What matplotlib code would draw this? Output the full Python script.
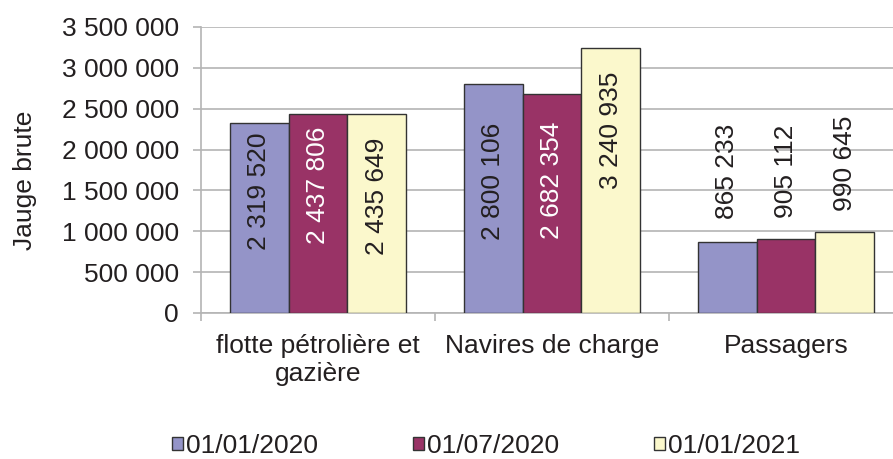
import matplotlib.pyplot as plt
import numpy as np
from matplotlib.patches import Patch
from matplotlib.ticker import FuncFormatter, FixedLocator

# data
categories = ["flotte pétrolière et\ngazière", "Navires de charge", "Passagers"]
series_names = ["01/01/2020", "01/07/2020", "01/01/2021"]
val_2020_01 = [2319520, 2800106, 865233]
val_2020_07 = [2437806, 2682354, 905112]
val_2021_01 = [2435649, 3240935, 990645]

# layout: centre of each value label (data units), as placed in the original
label_y_2020_01 = [1.487e6, 1.609e6, 1.732e6]
label_y_2020_07 = [1.566e6, 1.621e6, 1.732e6]
label_y_2021_01 = [1.426e6, 2.233e6, 1.829e6]

colors = ["#9494c8", "#993366", "#fbf8cc"]
label_colors = ["#231f20", "white", "#231f20"]
text_color = "#231f20"
grid_color = "#b4b4b4"

plt.rcParams['font.family'] = ['Liberation Sans', 'DejaVu Sans']
plt.rcParams['font.size'] = 19

fig = plt.figure(figsize=(8.93, 4.59), dpi=100)
ax = fig.add_axes([201 / 893, 1 - 313 / 459, 702 / 893, 286 / 459])

x = np.arange(len(categories))
width = 0.25
offsets = [-width, 0, width]
series = [val_2020_01, val_2020_07, val_2021_01]
label_pos = [label_y_2020_01, label_y_2020_07, label_y_2021_01]

for i, vals in enumerate(series):
    ax.bar(x + offsets[i], vals, width, color=colors[i], edgecolor="#333333",
           linewidth=1.0, zorder=3)
    for j, v in enumerate(vals):
        # last group: labels sit above bars, dark text
        col = label_colors[i] if j < 2 else text_color
        ax.text(x[j] + offsets[i], label_pos[i][j], f"{v:,}".replace(",", " "),
                rotation=90, ha="center", va="center", color=col, fontsize=19,
                zorder=4)

ax.set_xlim(-0.5, 2.5)
ax.set_ylim(0, 3500000)
ax.set_yticks(np.arange(0, 3500001, 500000))
ax.yaxis.set_major_formatter(FuncFormatter(lambda v, p: f"{int(v):,}".replace(",", " ")))
ax.grid(axis="y", color=grid_color, linewidth=1.2, zorder=0)

ax.set_xticks(x)
ax.set_xticklabels(categories, color=text_color)
ax.xaxis.set_minor_locator(FixedLocator([-0.5, 0.5, 1.5, 2.5]))
ax.tick_params(axis="x", which="major", length=0, pad=15, labelsize=19)
ax.tick_params(axis="x", which="minor", length=6, color=grid_color, width=1.2)
ax.tick_params(axis="y", length=6, color=grid_color, width=1.2, pad=10,
               labelcolor=text_color, labelsize=19)

for s in ["top", "right"]:
    ax.spines[s].set_visible(False)
for s in ["left", "bottom"]:
    ax.spines[s].set_color(grid_color)
    ax.spines[s].set_linewidth(1.2)

fig.text(25 / 893, 1 - 180 / 459, "Jauge brute", rotation=90, ha="center",
         va="center", color=text_color, fontsize=19)

handles = [Patch(facecolor=colors[i], edgecolor="#333333", linewidth=1.0)
           for i in range(3)]
fig.legend(handles, series_names, loc="center", ncol=3,
           bbox_to_anchor=(486 / 893, 1 - 446 / 459), frameon=False,
           handlelength=0.42, handleheight=0.42, handletextpad=0.1,
           columnspacing=3.6, labelcolor=text_color, fontsize=19)

fig.savefig("out.png", dpi=100)
